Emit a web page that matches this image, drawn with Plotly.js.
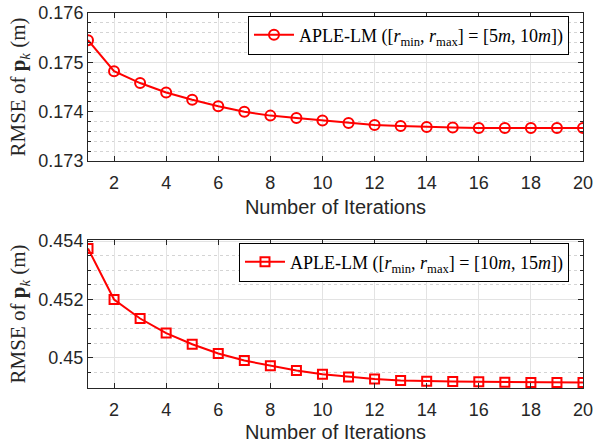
<!DOCTYPE html>
<html>
<head>
<meta charset="utf-8">
<script src="https://cdn.plot.ly/plotly-3.0.1.min.js"></script>
<style>html,body{margin:0;padding:0;background:#fff;}#chart{width:593px;height:443px;}</style>
</head>
<body>
<div id="chart"></div>
<script>
const iterations = [1,2,3,4,5,6,7,8,9,10,11,12,13,14,15,16,17,18,19,20];
const rmseTop = [0.17545,0.17482,0.17458,0.17439,0.17424,0.17411,0.17400,0.17392,0.17387,0.17382,0.17377,0.17373,0.17371,0.17369,0.17368,0.17367,0.17367,0.17367,0.17367,0.17367];
const rmseBottom = [0.45375,0.45200,0.45135,0.45085,0.45047,0.45015,0.44991,0.44973,0.44957,0.44944,0.44935,0.44928,0.44923,0.44920,0.44919,0.44918,0.44917,0.44916,0.44916,0.44916];
const nameTop = "APLE-LM ([<i>r</i><sub>min</sub>, <i>r</i><sub>max</sub>] = [5<i>m</i>, 10<i>m</i>])";
const nameBottom = "APLE-LM ([<i>r</i><sub>min</sub>, <i>r</i><sub>max</sub>] = [10<i>m</i>, 15<i>m</i>])";
const yTicksTop = [0.173,0.174,0.175,0.176];
const yTickTextTop = ["0.173","0.174","0.175","0.176"];
const yTicksBottom = [0.45,0.452,0.454];
const yTickTextBottom = ["0.45","0.452","0.454"];
const xTicks = [2,4,6,8,10,12,14,16,18,20];

const red = "#ff0000";
const axColor = "#262626";
const sans = "Liberation Sans, Arial, sans-serif";
const serif = "Liberation Serif, Times New Roman, serif";

const traces = [
  {x: iterations, y: rmseTop, xaxis:'x', yaxis:'y', mode:'lines+markers', name: nameTop, legend:'legend',
   line:{color:red, width:2}, marker:{symbol:'circle-open', size:10, color:red, line:{width:2, color:red}}},
  {x: iterations, y: rmseBottom, xaxis:'x2', yaxis:'y2', mode:'lines+markers', name: nameBottom, legend:'legend2',
   line:{color:red, width:2}, marker:{symbol:'square-open', size:9, color:red, line:{width:2, color:red}}}
];

function xAx(anchor){
  return {anchor:anchor, range:[1,20], tickvals:xTicks, ticks:'inside', ticklen:5, tickcolor:axColor,
    showline:true, linecolor:axColor, linewidth:1, mirror:'ticks', showgrid:true, gridcolor:'#e3e3e3', gridwidth:1,
    zeroline:false, tickfont:{family:sans, size:18, color:axColor}, ticklabeloverflow:'allow', ticklabelstandoff:5,
    title:{text:'Number of Iterations', font:{family:sans, size:20, color:axColor}, standoff:8}};
}
function yAx(anchor, domain, range, tv, tt, minorDt, minor0){
  return {anchor:anchor, domain:domain, range:range, tickvals:tv, ticktext:tt, ticks:'inside', ticklen:5, tickcolor:axColor,
    showline:true, linecolor:axColor, linewidth:1, mirror:'ticks', showgrid:true, gridcolor:'#e3e3e3', gridwidth:1,
    zeroline:false, tickfont:{family:sans, size:18, color:axColor},
    minor:{dtick:minorDt, tick0:minor0, ticks:'inside', ticklen:3, tickcolor:axColor, showgrid:true, gridcolor:'#d4d4d4', griddash:'dot', gridwidth:1},
    title:{text:'RMSE of <b>p</b><sub><i>k</i></sub> (m)', font:{family:serif, size:21, color:axColor}, standoff:6}};
}

const layout = {
  width:593, height:443, paper_bgcolor:'#fff', plot_bgcolor:'#fff',
  margin:{l:88, r:10, t:13, b:55},
  showlegend:true,
  xaxis: xAx('y'),
  yaxis: yAx('x', [0.6053,1], [0.173,0.176], yTicksTop, yTickTextTop, 0.0002, 0.173),
  xaxis2: xAx('y2'),
  yaxis2: yAx('x2', [0,0.3947], [0.44897,0.45404], yTicksBottom, yTickTextBottom, 0.0005, 0.45),
  legend:{x:0.9717, y:0.993, xanchor:'right', yanchor:'top', bgcolor:'#fff', bordercolor:'#000', borderwidth:1,
    font:{family:serif, size:18, color:'#000'}, itemwidth:40, tracegroupgap:0},
  legend2:{x:0.9717, y:0.388, xanchor:'right', yanchor:'top', bgcolor:'#fff', bordercolor:'#000', borderwidth:1,
    font:{family:serif, size:18, color:'#000'}, itemwidth:40, tracegroupgap:0}
};

Plotly.newPlot('chart', traces, layout, {displayModeBar:false, staticPlot:true});
</script>
</body>
</html>
